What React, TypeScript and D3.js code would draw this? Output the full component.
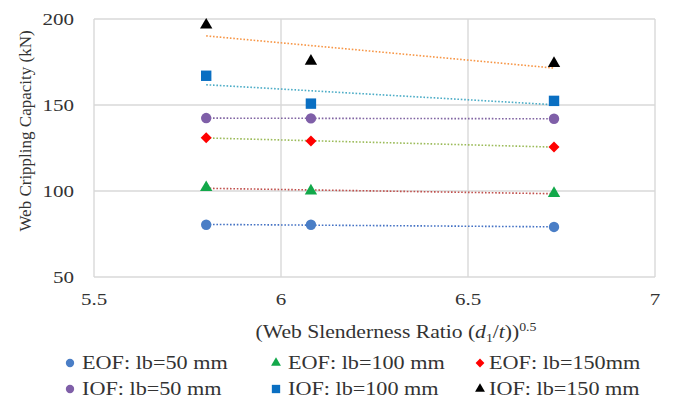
import React from "react";
import * as d3 from "d3";

const xValues = [5.8, 6.08, 6.73];
const seriesNames = [
  "EOF: lb=50 mm",
  "EOF: lb=100 mm",
  "EOF: lb=150mm",
  "IOF: lb=50 mm",
  "IOF: lb=100 mm",
  "IOF: lb=150 mm",
];
const eof50 = [80.4, 80.4, 79.1];
const eof100 = [102, 100, 98.6];
const eof150 = [131, 129, 125.6];
const iof50 = [142.4, 142.2, 142];
const iof100 = [167, 150.8, 152.4];
const iof150 = [196.5, 175.5, 174.2];
const xTicks = [5.5, 6, 6.5, 7];
const yTicks = [50, 100, 150, 200];

const seriesValues = [eof50, eof100, eof150, iof50, iof100, iof150];
const markerTypes = ["circle", "triangle", "diamond", "circle", "square", "triangle"];
const markerColors = ["#4a7ec6", "#12a84a", "#ff0000", "#7f5fa8", "#0a6fc2", "#000000"];
const trendColors = ["#4472c4", "#c0504d", "#9bbb59", "#8064a2", "#4bacc6", "#f79646"];

const W = 673;
const H = 398;
const FONT = "'Liberation Serif', 'Times New Roman', serif";
const SX = 1.2;
const TXT = "#333333";

const x = d3.scaleLinear().domain([5.5, 7]).range([94, 655]);
const y = d3.scaleLinear().domain([50, 200]).range([277, 19]);

function regression(xs: number[], ys: number[]) {
  const mx = d3.mean(xs) as number;
  const my = d3.mean(ys) as number;
  let sxy = 0;
  let sxx = 0;
  xs.forEach((v, i) => {
    sxy += (v - mx) * (ys[i] - my);
    sxx += (v - mx) * (v - mx);
  });
  const slope = sxy / sxx;
  return (v: number) => my + slope * (v - mx);
}

function Marker({ type, color, cx, cy, s = 1 }: { type: string; color: string; cx: number; cy: number; s?: number }) {
  if (type === "circle") return <circle cx={cx} cy={cy} r={5.2 * s} fill={color} />;
  if (type === "square")
    return <rect x={cx - 5.2 * s} y={cy - 5.2 * s} width={10.4 * s} height={10.4 * s} fill={color} />;
  if (type === "diamond") {
    const r = 5.5 * s;
    return <path d={`M${cx},${cy - r}L${cx + r},${cy}L${cx},${cy + r}L${cx - r},${cy}Z`} fill={color} />;
  }
  const sym = d3.symbol(d3.symbolTriangle, 66 * s * s)();
  return <path d={sym as string} transform={`translate(${cx},${cy})`} fill={color} />;
}

export default function App() {
  const line = d3.line<number>().x((d) => x(d[0])).y((d) => y(d[1]));
  const xmin = d3.min(xValues) as number;
  const xmax = d3.max(xValues) as number;
  const legendCols = [70, 276, 480];
  const legendRows = [363, 389];
  return (
    <svg width={W} height={H} style={{ position: "absolute", left: 0, top: 0 }}>
      <rect x={0} y={0} width={W} height={H} fill="#fff" />
      {/* grid */}
      {xTicks.map((t) => (
        <line key={"gx" + t} x1={x(t)} x2={x(t)} y1={y(200)} y2={y(50)} stroke="#d9d9d9" strokeWidth={1.4} />
      ))}
      {yTicks.map((t) => (
        <line key={"gy" + t} x1={x(5.5)} x2={x(7)} y1={y(t)} y2={y(t)} stroke="#d9d9d9" strokeWidth={1.4} />
      ))}
      {/* trendlines */}
      {seriesValues.map((vals, i) => {
        const f = regression(xValues, vals);
        const p = line([
          [xmin, f(xmin)],
          [xmax, f(xmax)],
        ] as any);
        return (
          <path
            key={"t" + i}
            d={p as string}
            fill="none"
            stroke={trendColors[i]}
            strokeWidth={1.6}
            strokeDasharray="1.6 1.8"
          />
        );
      })}
      {/* markers */}
      {seriesValues.map((vals, i) =>
        vals.map((v, j) => (
          <Marker key={`m${i}-${j}`} type={markerTypes[i]} color={markerColors[i]} cx={x(xValues[j])} cy={y(v)} />
        ))
      )}
      {/* y tick labels */}
      {yTicks.map((t) => (
        <text
          key={"yl" + t}
          transform={`translate(74,${y(t) + 6}) scale(${SX},1)`}
          textAnchor="end"
          fontFamily={FONT}
          fontSize={17.5}
          fill={TXT}
        >
          {t}
        </text>
      ))}
      {/* x tick labels */}
      {xTicks.map((t) => (
        <text
          key={"xl" + t}
          transform={`translate(${x(t)},305) scale(${SX},1)`}
          textAnchor="middle"
          fontFamily={FONT}
          fontSize={17.5}
          fill={TXT}
        >
          {t}
        </text>
      ))}
      {/* y title */}
      <text
        transform={`translate(31,131) rotate(-90)`}
        textAnchor="middle"
        fontFamily={FONT}
        fontSize={17}
        fill={TXT}
      >
        Web Crippling Capacity (kN)
      </text>
      {/* x title */}
      <text
        transform={`translate(396,338) scale(${SX},1)`}
        textAnchor="middle"
        fontFamily={FONT}
        fontSize={18}
        fill={TXT}
      >
        (Web Slenderness Ratio (<tspan fontStyle="italic">d</tspan>
        <tspan fontSize={11.5} dy={4}>1</tspan>
        <tspan dy={-4}>/</tspan>
        <tspan fontStyle="italic">t</tspan>))
        <tspan fontSize={11.5} dy={-7}>0.5</tspan>
      </text>
      {/* legend */}
      {seriesNames.map((name, i) => {
        const col = i % 3;
        const row = Math.floor(i / 3);
        const mx = legendCols[col];
        const my = legendRows[row];
        return (
          <g key={"lg" + i}>
            <Marker type={markerTypes[i]} color={markerColors[i]} cx={mx} cy={my} s={0.8} />
            <text
              transform={`translate(${mx + (col === 2 ? 9 : 12)},${my + 6}) scale(${SX},1)`}
              fontFamily={FONT}
              fontSize={18.5}
              fill={TXT}
            >
              {name}
            </text>
          </g>
        );
      })}
    </svg>
  );
}
